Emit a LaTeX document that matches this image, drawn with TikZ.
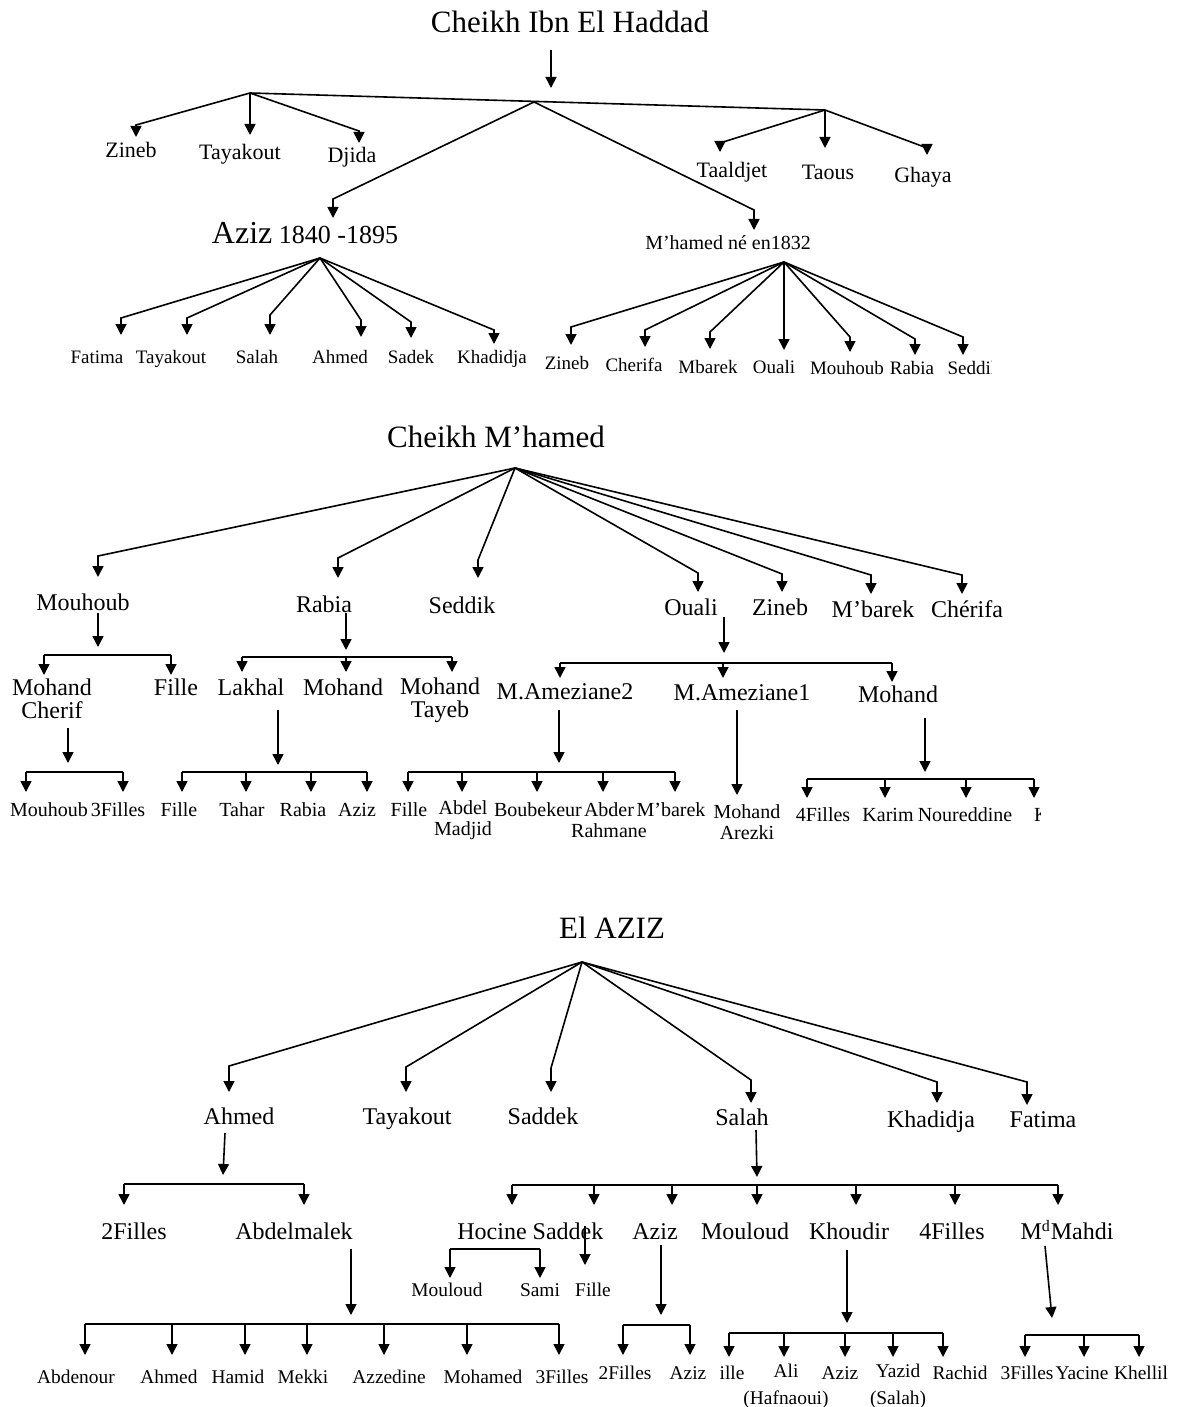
\documentclass[tikz,border=0pt]{standalone}
\usepackage{fontspec}
\setmainfont{Liberation Serif}
\usetikzlibrary{arrows.meta,calc}

\newcommand\fan[5]{\draw[link] (#1) -- ($(#2)+(#3,#4)$) -- ($(#2)+(#3,#5)$);}
\newcommand\drop[4]{\draw[link] ($(#1)+(#2,#3)$) -- ($(#1)+(#2,#4)$);}

\begin{document}
\begin{tikzpicture}[x=0.5pt, y=-0.5pt,
        line/.style={line width=0.8pt},
        link/.style={line, -{Triangle[width=5.5pt,length=5.5pt]}},
        every node/.style={align=center},
        sized/.style 2 args={font=\fontsize{#1}{#2}\selectfont, text height=0.68*#1pt, text depth=0.02*#1pt},
        two/.style={text height=, text depth=},
        title/.style={sized={15.5}{18}},
        big/.style={sized={11}{13}},
        mid/.style={sized={12}{11.5}},
        small/.style={sized={10}{10.5}},
        tiny/.style={sized={9.5}{11}},
        lower/.style={sized={9.7}{13.5}}]
    \fill[white] (0,0) rectangle (1188,1407);
    \useasboundingbox (0,0) rectangle (1188,1407);

    \node[title] (t1) at (570,22) {Cheikh Ibn El Haddad};
    \draw[link] ($(t1)+(-19,28)$) -- ($(t1)+(-19,66)$);
    \coordinate (hL) at (250,93);
    \coordinate (hM) at (534,102);
    \coordinate (hR) at (825,110);
    \draw[line] (hL) -- (hR);

    \node[big] (zin1) at (131,150) {Zineb};
    \node[big] (tay1) at (240,152) {Tayakout};
    \node[big] (dji1) at (352,155) {Djida};
    \fan{hL}{zin1}{5}{-25}{-13}
    \fan{hL}{tay1}{10}{-30}{-17}
    \fan{hL}{dji1}{7}{-24}{-12}

    \node[big] (taal) at (732,170) {Taaldjet};
    \node[big] (taou) at (828,172) {Taous};
    \node[big] (ghay) at (923,175) {Ghaya};
    \fan{hR}{taal}{-12}{-27}{-18}
    \fan{hR}{taou}{-3}{-40}{-24}
    \fan{hR}{ghay}{4}{-27}{-20}

    \node[sized={13}{15}] (aziz) at (305,235) {{\fontsize{16}{18}\selectfont Aziz} 1840 -1895};
    \node[sized={10}{12}] (mham) at (728,243) {M'hamed né en1832};
    \fan{hM}{aziz}{28}{-36}{-17}
    \fan{hM}{mham}{26}{-33}{-13}
    \coordinate (hA) at ($(aziz)+(15,23)$);
    \coordinate (hB) at ($(mham)+(56,19)$);

    \node[tiny] (fat2) at (97,357) {Fatima};
    \node[tiny] (tay2) at (171,357) {Tayakout};
    \node[tiny] (sal2) at (257,357) {Salah};
    \node[tiny] (ahm2) at (340,357) {Ahmed};
    \node[tiny] (sad2) at (411,357) {Sadek};
    \node[tiny] (kha2) at (492,357) {Khadidja};
    \fan{hA}{fat2}{24}{-39}{-22}
    \fan{hA}{tay2}{16}{-39}{-22}
    \fan{hA}{sal2}{13}{-42}{-22}
    \fan{hA}{ahm2}{21}{-37}{-20}
    \fan{hA}{sad2}{0}{-35}{-19}
    \fan{hA}{kha2}{2}{-27}{-13}

    \node[tiny] (zin3) at (567,363) {Zineb};
    \node[tiny] (che3) at (634,365) {Cherifa};
    \node[tiny] (mba3) at (708,367) {Mbarek};
    \node[tiny] (oua3) at (774,367) {Ouali};
    \node[tiny] (mou3) at (847,368) {Mouhoub};
    \node[tiny] (rab3) at (912,368) {Rabia};
    \begin{scope}
        \clip (0,0) rectangle (991,1407);
        \node[tiny] (sed3) at (974,368) {Seddik};
    \end{scope}
    \fan{hB}{zin3}{4}{-36}{-18}
    \fan{hB}{che3}{11}{-35}{-18}
    \fan{hB}{mba3}{2}{-35}{-18}
    \fan{hB}{oua3}{10}{-40}{-17}
    \fan{hB}{mou3}{3}{-31}{-16}
    \fan{hB}{rab3}{3}{-29}{-13}
    \fan{hB}{sed3}{-11}{-31}{-13}

    \node[title] (t2) at (496,437) {Cheikh M'hamed};
    \coordinate (hC) at ($(t2)+(19,31)$);
    \node[mid] (mouh) at (83,603) {Mouhoub};
    \node[mid] (rabi) at (324,605) {Rabia};
    \node[mid] (sedd) at (462,606) {Seddik};
    \node[mid] (ouali) at (691,608) {Ouali};
    \node[mid] (zine) at (780,608) {Zineb};
    \node[mid] (mbar) at (873,610) {M'barek};
    \node[mid] (cher) at (967,610) {Chérifa};
    \fan{hC}{mouh}{15}{-47}{-26}
    \fan{hC}{rabi}{14}{-47}{-27}
    \fan{hC}{sedd}{16}{-46}{-28}
    \fan{hC}{ouali}{7}{-35}{-16}
    \fan{hC}{zine}{2}{-34}{-16}
    \fan{hC}{mbar}{-2}{-35}{-16}
    \fan{hC}{cher}{-5}{-35}{-16}

    \draw[link] ($(mouh)+(15,10)$) -- ($(mouh)+(15,44)$);
    \node[mid, two] (mch) at (52,699) {Mohand\\Cherif};
    \node[mid] (fil1) at (176,688) {Fille};
    \draw[line] ($(mch)+(-8,-44)$) -- ($(fil1)+(-5,-33)$);
    \drop{mch}{-8}{-44}{-24}
    \drop{fil1}{-5}{-33}{-13}
    \draw[link] ($(mch)+(16,29)$) -- ($(mch)+(16,64)$);
    \node[small] (mou4) at (49,810) {Mouhoub};
    \node[small] (fil4) at (118,810) {3Filles};
    \draw[line] ($(mou4)+(-23,-38)$) -- ($(fil4)+(5,-38)$);
    \drop{mou4}{-23}{-38}{-18}
    \drop{fil4}{5}{-38}{-18}

    \draw[link] ($(rabi)+(22,8)$) -- ($(rabi)+(22,45)$);
    \node[mid] (lakh) at (251,688) {Lakhal};
    \node[mid] (moha) at (343,688) {Mohand};
    \node[mid, two] (mtay) at (440,700) {Mohand\\Tayeb};
    \draw[line] ($(lakh)+(-9,-31)$) -- ($(mtay)+(12,-43)$);
    \drop{lakh}{-9}{-31}{-16}
    \drop{moha}{3}{-31}{-16}
    \drop{mtay}{12}{-43}{-28}
    \draw[link] ($(lakh)+(27,22)$) -- ($(lakh)+(27,77)$);
    \node[small] (fil5) at (179,810) {Fille};
    \node[small] (tah5) at (242,810) {Tahar};
    \node[small] (rab5) at (303,810) {Rabia};
    \node[small] (azi5) at (357,810) {Aziz};
    \draw[line] ($(fil5)+(3,-38)$) -- ($(azi5)+(10,-38)$);
    \drop{fil5}{3}{-38}{-18}
    \drop{tah5}{4}{-38}{-18}
    \drop{rab5}{8}{-38}{-18}
    \drop{azi5}{10}{-38}{-18}

    \draw[link] ($(ouali)+(33,9)$) -- ($(ouali)+(33,45)$);
    \node[mid] (mam2) at (565,692) {M.Ameziane2};
    \node[mid] (mam1) at (742,693) {M.Ameziane1};
    \node[mid] (moh6) at (898,695) {Mohand};
    \draw[line] ($(mam2)+(-5,-29)$) -- ($(moh6)+(-6,-32)$);
    \drop{mam2}{-5}{-29}{-14}
    \drop{mam1}{-19}{-30}{-15}
    \drop{moh6}{-6}{-32}{-13}

    \draw[link] ($(mam2)+(-6,18)$) -- ($(mam2)+(-6,71)$);
    \node[small] (fil7) at (409,810) {Fille};
    \node[small, two] (abm7) at (463,820) {Abdel\\Madjid};
    \node[small] (bou7) at (538,810) {Boubekeur};
    \node[small, two] (abr7) at (609,820) {Abder\\Rahmane};
    \node[small] (mba7) at (671,810) {M'barek};
    \draw[line] ($(fil7)+(-1,-38)$) -- ($(mba7)+(4,-38)$);
    \drop{fil7}{-1}{-38}{-18}
    \drop{abm7}{-1}{-48}{-28}
    \drop{bou7}{-1}{-38}{-18}
    \drop{abr7}{-6}{-48}{-28}
    \drop{mba7}{4}{-38}{-18}

    \node[small, two] (are7) at (747,822) {Mohand\\Arezki};
    \draw[link] ($(mam1)+(-5,17)$) -- ($(are7)+(-10,-27)$);

    \draw[link] ($(moh6)+(27,23)$) -- ($(moh6)+(27,77)$);
    \node[small] (fil8) at (823,815) {4Filles};
    \node[small] (kar8) at (888,815) {Karim};
    \node[small] (nou8) at (965,815) {Noureddine};
    \begin{scope}
        \clip (0,0) rectangle (1040,1407);
        \node[small, anchor=west] (ka8) at (1027,815) {Ka};
    \end{scope}
    \draw[line] ($(fil8)+(-16,-36)$) -- ($(ka8.west)+(7,-36)$);
    \drop{fil8}{-16}{-36}{-17}
    \drop{kar8}{-3}{-36}{-17}
    \drop{nou8}{1}{-36}{-17}
    \drop{ka8.west}{7}{-36}{-17}

    \node[title] (t3) at (612,928) {El AZIZ};
    \coordinate (hE) at ($(t3)+(-30,34)$);
    \node[mid] (ahm) at (239,1117) {Ahmed};
    \node[mid] (tay) at (407,1117) {Tayakout};
    \node[mid] (sadd) at (543,1117) {Saddek};
    \node[mid] (sala) at (742,1118) {Salah};
    \node[mid] (khad) at (931,1120) {Khadidja};
    \node[mid] (fati) at (1043,1120) {Fatima};
    \fan{hE}{ahm}{-10}{-51}{-25}
    \fan{hE}{tay}{-1}{-50}{-25}
    \fan{hE}{sadd}{8}{-49}{-25}
    \fan{hE}{sala}{9}{-38}{-15}
    \fan{hE}{khad}{6}{-38}{-17}
    \fan{hE}{fati}{-16}{-38}{-15}

    \draw[link] ($(ahm)+(-14,16)$) -- ($(ahm)+(-16,58)$);
    \node[mid] (fil9) at (134,1232) {2Filles};
    \node[mid] (abdm) at (294,1232) {Abdelmalek};
    \draw[line] ($(fil9)+(-10,-48)$) -- ($(abdm)+(10,-48)$);
    \drop{fil9}{-10}{-48}{-27}
    \drop{abdm}{10}{-48}{-27}

    \draw[link] ($(abdm)+(57,17)$) -- ($(abdm)+(57,83)$);
    \node[lower] (abn) at (76,1377) {Abdenour};
    \node[lower] (ahd) at (169,1377) {Ahmed};
    \node[lower] (ham) at (238,1377) {Hamid};
    \node[lower] (mek) at (303,1377) {Mekki};
    \node[lower] (azz) at (389,1377) {Azzedine};
    \node[lower] (mhd) at (483,1377) {Mohamed};
    \node[lower] (fil10) at (562,1377) {3Filles};
    \draw[line] ($(abn)+(9,-53)$) -- ($(fil10)+(-3,-53)$);
    \drop{abn}{9}{-53}{-22}
    \drop{ahd}{3}{-53}{-22}
    \drop{ham}{7}{-53}{-22}
    \drop{mek}{4}{-53}{-22}
    \drop{azz}{-5}{-53}{-22}
    \drop{mhd}{-16}{-53}{-22}
    \drop{fil10}{-3}{-53}{-22}

    \draw[link] ($(sala)+(14,12)$) -- ($(sala)+(15,59)$);
    \node[mid] (hoc) at (492,1232) {Hocine};
    \node[mid] (sdk) at (568,1232) {Saddek};
    \node[mid] (azi) at (655,1232) {Aziz};
    \node[mid] (mld) at (745,1232) {Mouloud};
    \node[mid] (kho) at (849,1232) {Khoudir};
    \node[mid] (fil11) at (952,1232) {4Filles};
    \node[mid] (mah) at (1067,1232) {M\textsuperscript{d}Mahdi};
    \draw[line] ($(hoc)+(20,-47)$) -- ($(mah)+(-9,-47)$);
    \drop{hoc}{20}{-47}{-27}
    \drop{sdk}{26}{-47}{-27}
    \drop{azi}{17}{-47}{-27}
    \drop{mld}{12}{-47}{-27}
    \drop{kho}{7}{-47}{-27}
    \drop{fil11}{3}{-47}{-27}
    \drop{mah}{-9}{-47}{-27}

    \node[lower] (mld2) at (447,1290) {Mouloud};
    \node[lower] (sam) at (540,1290) {Sami};
    \draw[line] ($(mld2)+(3,-41)$) -- ($(sam)+(0,-41)$);
    \drop{mld2}{3}{-41}{-12}
    \drop{sam}{0}{-41}{-12}
    \node[lower] (fil12) at (593,1290) {Fille};
    \draw[link] ($(sdk)+(17,-6)$) -- ($(fil12)+(-8,-25)$);

    \draw[link] ($(azi)+(6,13)$) -- ($(azi)+(6,83)$);
    \node[lower] (fil13) at (625,1373) {2Filles};
    \node[lower] (azi2) at (688,1373) {Aziz};
    \draw[line] ($(fil13)+(-2,-48)$) -- ($(azi2)+(2,-48)$);
    \drop{fil13}{-2}{-48}{-18}
    \drop{azi2}{2}{-48}{-18}

    \draw[link] ($(kho)+(-2,18)$) -- ($(kho)+(-2,91)$);
    \node[lower] (ill) at (732,1373) {ille};
    \node[lower, two] (ali) at (786,1386) {Ali\\(Hafnaoui)};
    \node[lower] (azi3) at (840,1373) {Aziz};
    \node[lower, two] (yaz) at (898,1386) {Yazid\\(Salah)};
    \node[lower] (rac) at (960,1373) {Rachid};
    \draw[line] ($(ill)+(-3,-40)$) -- ($(rac)+(-17,-40)$);
    \drop{ill}{-3}{-40}{-16}
    \drop{ali}{-2}{-53}{-29}
    \drop{azi3}{5}{-40}{-16}
    \drop{yaz}{-5}{-53}{-29}
    \drop{rac}{-17}{-40}{-16}

    \draw[link] ($(mah)+(-22,14)$) -- ($(mah)+(-15,86)$);
    \node[lower] (fil14) at (1027,1373) {3Filles};
    \node[lower] (yac) at (1082,1373) {Yacine};
    \node[lower] (khe) at (1141,1373) {Khellil};
    \draw[line] ($(fil14)+(-2,-38)$) -- ($(khe)+(-2,-38)$);
    \drop{fil14}{-2}{-38}{-16}
    \drop{yac}{2}{-38}{-16}
    \drop{khe}{-2}{-38}{-16}
\end{tikzpicture}
\end{document}
